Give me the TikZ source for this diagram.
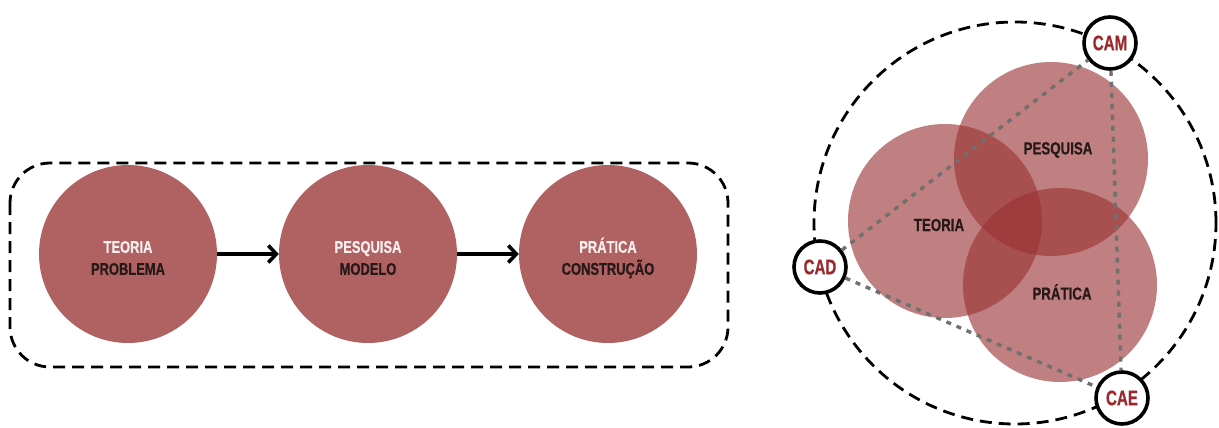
\documentclass[tikz,border=0pt]{standalone}
\usepackage{fontspec}
\newfontfamily\cond[FakeStretch=0.76,FakeBold=0.6]{Liberation Sans}
\newfontfamily\condtool[FakeStretch=0.72,FakeBold=0.6]{Liberation Sans}
\usetikzlibrary{arrows.meta}
\definecolor{disc}{RGB}{176,98,98}
\definecolor{venn}{RGB}{153,49,50}
\definecolor{cadred}{RGB}{155,40,45}
\definecolor{lightTxt}{RGB}{246,238,238}
\definecolor{darkTxt}{RGB}{40,25,25}
\definecolor{dotgray}{RGB}{112,112,112}
\begin{document}
\begin{tikzpicture}[x=1pt,y=-1pt,
  stage/.style={circle,fill=disc,minimum size=178pt,inner sep=0pt},
  stagetxt/.style={align=center,inner sep=0pt,font=\cond\bfseries\fontsize{17}{22}\selectfont},
  flow/.style={line width=3.6pt,-{Straight Barb[length=8pt,width=17pt]}},
  frame/.style={line width=2.8pt,dash pattern=on 12pt off 7pt},
  tool/.style={circle,draw=black,line width=3.6pt,fill=white,minimum size=52pt,inner sep=0pt,
    font=\condtool\bfseries\fontsize{21}{21}\selectfont,text=cadred},
  link/.style={dotgray,line width=3.4pt,dash pattern=on 5pt off 6pt},
  vennc/.style={fill=venn,fill opacity=0.62},
  vlabel/.style={inner sep=0pt,font=\cond\bfseries\fontsize{17.5}{17.5}\selectfont,text=darkTxt}]
\useasboundingbox (0,0) rectangle (1219,428);

% ---------- left panel ----------
\draw[frame,rounded corners=40pt] (10,163) rectangle (728,367);

\node[stage] (teoria) at (128,254) {};
\node[stage] (pesquisa) at (368,254) {};
\node[stage] (pratica) at (608,254) {};

\node[stagetxt] (teoriaT) at ([yshift=-4pt]teoria.center)
  {{\color{lightTxt}TEORIA}\\{\color{darkTxt}PROBLEMA}};
\node[stagetxt] (pesquisaT) at ([yshift=-4pt]pesquisa.center)
  {{\color{lightTxt}PESQUISA}\\{\color{darkTxt}MODELO}};
\node[stagetxt] (praticaT) at ([yshift=-4pt]pratica.center)
  {{\color{lightTxt}PRÁTICA}\\{\color{darkTxt}CONSTRUÇÃO}};

\draw[flow] (teoria) -- (pesquisa);
\draw[flow] (pesquisa) -- (pratica);

% ---------- right panel ----------
\coordinate (hub) at (1015,223);
\draw[frame] (hub) circle[radius=201pt];

\fill[vennc] (945,221) circle[radius=97pt];
\fill[vennc] (1051,159) circle[radius=97pt];
\fill[vennc] (1060,285) circle[radius=97pt];

\node[vlabel] (vteoria) at (939,225) {TEORIA};
\node[vlabel] (vpesquisa) at (1058,150) {PESQUISA};
\node[vlabel] (vpratica) at (1062,292) {PRÁTICA};

\node[tool] (cam) at (1110,43) {CAM};
\node[tool] (cad) at (820,267) {CAD};
\node[tool] (cae) at (1122,398) {CAE};

\draw[link] (cad) -- (cam);
\draw[link] (cam) -- (cae);
\draw[link] (cad) -- (cae);
\end{tikzpicture}
\end{document}
